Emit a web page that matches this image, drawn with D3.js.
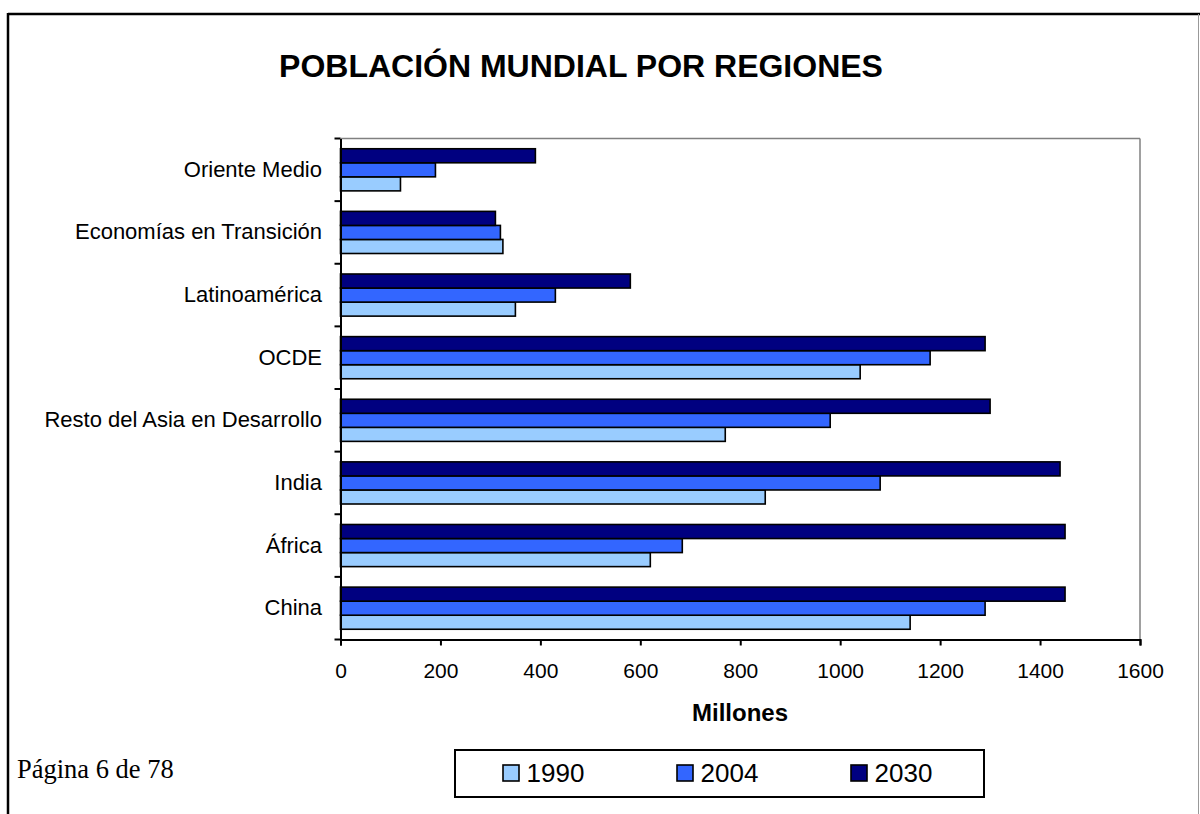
<!DOCTYPE html>
<html><head><meta charset="utf-8">
<script src="https://cdn.jsdelivr.net/npm/d3@7"></script>
<style>body{margin:0;background:#fff;}svg{display:block;}</style>
</head><body>
<script>
const categories = ["China","África","India","Resto del Asia en Desarrollo","OCDE","Latinoamérica","Economías en Transición","Oriente Medio"];
const series = ["1990","2004","2030"];
const v1990 = [1140,620,850,770,1040,350,325,120];
const v2004 = [1290,684,1080,980,1180,430,320,190];
const v2030 = [1450,1450,1440,1300,1290,580,310,390];
const xTicks = [0,200,400,600,800,1000,1200,1400,1600];
const colors = ["#99CCFF","#3366FF","#000080"];
const values = [v1990, v2004, v2030];

const W=1200,H=814;
const svg=d3.select("body").append("svg").attr("width",W).attr("height",H);
const font="Liberation Sans, Arial, sans-serif";

// page frame
svg.append("line").attr("x1",8).attr("x2",1200).attr("y1",14).attr("y2",14).attr("stroke","#000").attr("stroke-width",2.5);
svg.append("line").attr("x1",8).attr("x2",8).attr("y1",13).attr("y2",814).attr("stroke","#000").attr("stroke-width",2.5);
svg.append("line").attr("x1",1198.5).attr("x2",1198.5).attr("y1",14).attr("y2",814).attr("stroke","#999").attr("stroke-width",1);

svg.append("text").attr("x",581).attr("y",77).attr("text-anchor","middle")
  .attr("font-family",font).attr("font-weight","bold").attr("font-size",32)
  .text("POBLACIÓN MUNDIAL POR REGIONES");

const L=340.5,R=1140,T=138.5,B=639.5;
const x=d3.scaleLinear().domain([0,1600]).range([L,R]);
const y=d3.scaleBand().domain(categories.slice().reverse()).range([T,B]);
// within-band: top-to-bottom 2030, 2004, 1990
const inner=d3.scaleBand().domain(["2030","2004","1990"]).range([0,y.bandwidth()]).paddingInner(0).paddingOuter(0.73);

// plot border (gray top & right)
svg.append("line").attr("x1",L).attr("x2",R).attr("y1",T).attr("y2",T).attr("stroke","#808080").attr("stroke-width",1.5);
svg.append("line").attr("x1",R).attr("x2",R).attr("y1",T).attr("y2",B).attr("stroke","#808080").attr("stroke-width",1.5);

series.forEach((s,si)=>{
  svg.append("g").selectAll("rect").data(categories).join("rect")
    .attr("x",x(0))
    .attr("y",(c)=>y(c)+inner(s))
    .attr("width",(c,i)=>x(values[si][i])-x(0))
    .attr("height",inner.bandwidth())
    .attr("fill",colors[si]).attr("stroke","#000").attr("stroke-width",1.6);
});

// axes
const yAxis=d3.axisLeft(y).tickSize(0).tickPadding(18.5);
const gy=svg.append("g").attr("transform",`translate(${L},0)`).call(yAxis);
gy.select(".domain").attr("stroke","#000").attr("stroke-width",2);
gy.selectAll("text").attr("font-family",font).attr("font-size",22).attr("fill","#000");
// category boundary ticks
const bounds=categories.map((c)=>y(c)).concat([B]);
svg.append("g").selectAll("line").data(bounds).join("line")
  .attr("x1",L-6).attr("x2",L).attr("y1",d=>d).attr("y2",d=>d).attr("stroke","#000").attr("stroke-width",2);

const xAxis=d3.axisBottom(x).tickValues(xTicks).tickSize(6).tickPadding(17.5).tickFormat(d3.format("d"));
const gx=svg.append("g").attr("transform",`translate(0,${B})`).call(xAxis);
gx.select(".domain").attr("stroke","#000").attr("stroke-width",2);
gx.selectAll("line").attr("stroke","#000").attr("stroke-width",2);
gx.selectAll("text").attr("font-family",font).attr("font-size",21).attr("fill","#000");

svg.append("text").attr("x",740).attr("y",721).attr("text-anchor","middle")
  .attr("font-family",font).attr("font-weight","bold").attr("font-size",24).text("Millones");

svg.append("text").attr("x",17).attr("y",778).attr("font-family","Liberation Serif, Times New Roman, serif")
  .attr("font-size",26.5).text("Página 6 de 78");

// legend
svg.append("rect").attr("x",455).attr("y",750).attr("width",529).attr("height",47)
  .attr("fill","#fff").attr("stroke","#000").attr("stroke-width",2);
const lx=[503,677,851];
series.forEach((s,i)=>{
  svg.append("rect").attr("x",lx[i]).attr("y",765).attr("width",16).attr("height",16)
    .attr("fill",colors[i]).attr("stroke","#000").attr("stroke-width",1.6);
  svg.append("text").attr("x",lx[i]+23.5).attr("y",782).attr("font-family",font).attr("font-size",26).text(s);
});
</script>
</body></html>
